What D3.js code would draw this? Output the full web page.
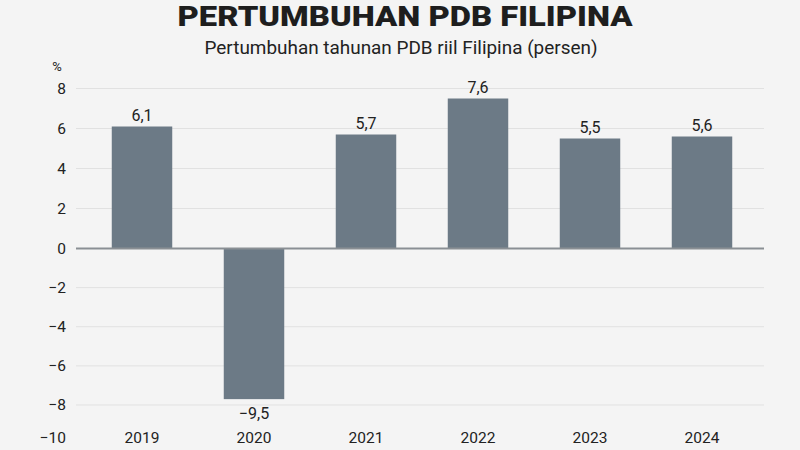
<!DOCTYPE html>
<html>
<head>
<meta charset="utf-8">
<script src="https://cdn.jsdelivr.net/npm/d3@7"></script>
<style>
  html, body { margin: 0; padding: 0; background: #f4f4f4; }
  svg { display: block; font-family: Roboto, "Noto Sans", sans-serif; }
</style>
</head>
<body>
<svg width="800" height="450"></svg>
<script>
'use strict';

const YEARS = ["2019", "2020", "2021", "2022", "2023", "2024"];
// bar lengths as drawn in the picture
const VALUES = [6.1, -7.7, 5.7, 7.5, 5.5, 5.6];
// printed value labels
const VALUE_LABELS = ["6,1", "\u22129,5", "5,7", "7,6", "5,5", "5,6"];
const Y_TICKS = [8, 6, 4, 2, 0, -2, -4, -6, -8, -10];

const TITLE = "PERTUMBUHAN PDB FILIPINA";
const SUBTITLE = "Pertumbuhan tahunan PDB riil Filipina (persen)";

const BAR_COLOR = "#6c7a86";
const GRID_COLOR = "#e1e1e1";
const TEXT_COLOR = "#222";

const svg = d3.select("svg");

const x = d3.scaleBand()
  .domain(YEARS)
  .range([86, 758])
  .paddingInner(0.46)
  .paddingOuter(0.23);

// axis spacing in the picture is slightly uneven below zero
const y = d3.scaleLinear()
  .domain([-10, -8, 0, 8])
  .range([438, 405, 248.5, 88.5]);

const fmt = d => d < 0 ? "\u2212" + Math.abs(d) : String(d);

// gridlines
svg.append("g")
  .selectAll("line")
  .data(Y_TICKS.filter(d => d !== 0 && d !== -10))
  .join("line")
  .attr("x1", 76).attr("x2", 764)
  .attr("y1", d => y(d)).attr("y2", d => y(d))
  .attr("stroke", GRID_COLOR)
  .attr("stroke-width", 1);

// y tick labels
svg.append("g")
  .selectAll("text")
  .data(Y_TICKS)
  .join("text")
  .attr("x", 66)
  .attr("y", d => y(d))
  .attr("dy", "0.35em")
  .attr("text-anchor", "end")
  .attr("fill", TEXT_COLOR)
  .style("font-size", "15.5px")
  .text(fmt);

svg.append("text")
  .attr("x", 57).attr("y", 66)
  .attr("dy", "0.35em")
  .attr("text-anchor", "middle")
  .attr("fill", TEXT_COLOR)
  .style("font-size", "13px")
  .text("%");

// bars
svg.append("g")
  .selectAll("rect")
  .data(VALUES)
  .join("rect")
  .attr("x", (d, i) => x(YEARS[i]))
  .attr("width", x.bandwidth())
  .attr("y", d => y(Math.max(0, d)))
  .attr("height", d => Math.abs(y(d) - y(0)))
  .attr("fill", BAR_COLOR);

// zero line
svg.append("line")
  .attr("x1", 76).attr("x2", 764)
  .attr("y1", y(0)).attr("y2", y(0))
  .attr("stroke", "#8a8f94")
  .attr("stroke-width", 2);

// value labels
svg.append("g")
  .selectAll("text")
  .data(VALUES)
  .join("text")
  .attr("x", (d, i) => x(YEARS[i]) + x.bandwidth() / 2)
  .attr("y", d => d >= 0 ? y(d) - 11 : y(d) + 14)
  .attr("dy", "0.35em")
  .attr("text-anchor", "middle")
  .attr("fill", TEXT_COLOR)
  .style("font-size", "16px")
  .text((d, i) => VALUE_LABELS[i]);

// year labels
svg.append("g")
  .selectAll("text")
  .data(YEARS)
  .join("text")
  .attr("x", d => x(d) + x.bandwidth() / 2)
  .attr("y", 438)
  .attr("dy", "0.35em")
  .attr("text-anchor", "middle")
  .attr("fill", TEXT_COLOR)
  .style("font-size", "15.5px")
  .text(d => d);

// titles
svg.append("text")
  .attr("x", 405).attr("y", 26)
  .attr("text-anchor", "middle")
  .attr("fill", "#1e1e1e")
  .attr("textLength", 455)
  .attr("lengthAdjust", "spacingAndGlyphs")
  .style("font-size", "27px")
  .style("font-weight", "900")
  .text(TITLE);

svg.append("text")
  .attr("x", 401).attr("y", 48)
  .attr("dy", "0.35em")
  .attr("text-anchor", "middle")
  .attr("fill", TEXT_COLOR)
  .attr("textLength", 393)
  .attr("lengthAdjust", "spacingAndGlyphs")
  .style("font-size", "17.5px")
  .text(SUBTITLE);
</script>
</body>
</html>
